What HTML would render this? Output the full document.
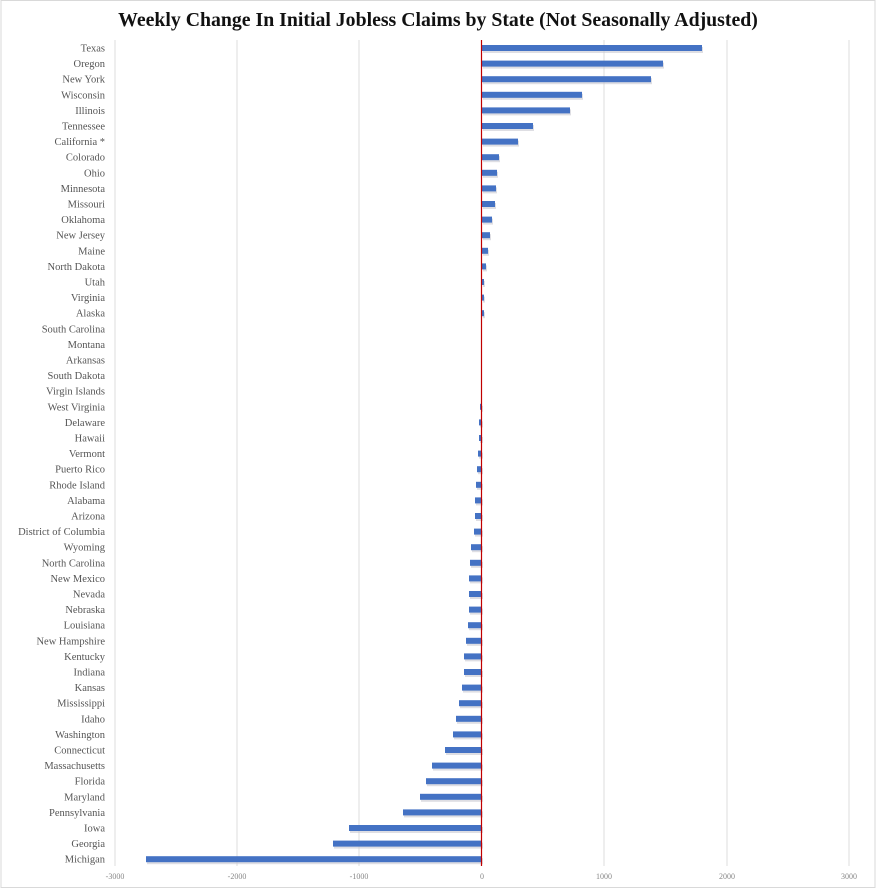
<!DOCTYPE html>
<html><head><meta charset="utf-8"><style>
html,body{margin:0;padding:0;background:#fff;}
svg{display:block;}
</style></head><body>
<svg id="c" width="876" height="889" xmlns="http://www.w3.org/2000/svg" font-family="'Liberation Serif', serif">
<rect x="1" y="0.5" width="874" height="887" fill="#fff" stroke="#d9d9d9"/>
<text x="438" y="26" text-anchor="middle" font-size="19.8" font-weight="bold" fill="#111">Weekly Change In Initial Jobless Claims by State (Not Seasonally Adjusted)</text>
<g stroke="#dcdcdc" stroke-width="1">
<line x1="115" y1="40" x2="115" y2="866"/><line x1="237" y1="40" x2="237" y2="866"/><line x1="359" y1="40" x2="359" y2="866"/>
<line x1="604" y1="40" x2="604" y2="866"/><line x1="727" y1="40" x2="727" y2="866"/><line x1="849" y1="40" x2="849" y2="866"/>
</g>
<g font-size="8" fill="#888" text-anchor="middle">
<text x="115" y="879">-3000</text><text x="237" y="879">-2000</text><text x="359" y="879">-1000</text><text x="482" y="879">0</text>
<text x="604" y="879">1000</text><text x="727" y="879">2000</text><text x="849" y="879">3000</text>
</g>
<g id="rows"></g>
<line x1="481.5" y1="40" x2="481.5" y2="866" stroke="#c00000" stroke-width="1.2"/>
</svg>
<script>
var d=[["Texas",702],["Oregon",663],["New York",651],["Wisconsin",582],["Illinois",570],["Tennessee",533],["California *",518],["Colorado",499],["Ohio",497],["Minnesota",496],["Missouri",495],["Oklahoma",492],["New Jersey",490],["Maine",488],["North Dakota",486],["Utah",484],["Virginia",484],["Alaska",484],["South Carolina",482],["Montana",482],["Arkansas",482],["South Dakota",482],["Virgin Islands",482],["West Virginia",480],["Delaware",479],["Hawaii",479],["Vermont",478],["Puerto Rico",477],["Rhode Island",476],["Alabama",475],["Arizona",475],["District of Columbia",474],["Wyoming",471],["North Carolina",470],["New Mexico",469],["Nevada",469],["Nebraska",469],["Louisiana",468],["New Hampshire",466],["Kentucky",464],["Indiana",464],["Kansas",462],["Mississippi",459],["Idaho",456],["Washington",453],["Connecticut",445],["Massachusetts",432],["Florida",426],["Maryland",420],["Pennsylvania",403],["Iowa",349],["Georgia",333],["Michigan",146]];
var g=document.getElementById("rows"),s="";
for(var i=0;i<d.length;i++){var y=48+i*15.6;var x0=Math.min(482,d[i][1]),w=Math.abs(d[i][1]-482);
s+='<text x="105" y="'+(y+3.5)+'" text-anchor="end" font-size="10.5" fill="#555">'+d[i][0]+'</text>';
if(w>0){s+='<rect x="'+(x0+1)+'" y="'+(y-1)+'" width="'+w+'" height="6" fill="#c8c8d0" opacity="0.6"/>';
s+='<rect x="'+x0+'" y="'+(y-3)+'" width="'+w+'" height="6" fill="#4472c4"/>';}}
g.innerHTML=s;
</script>
</body></html>
